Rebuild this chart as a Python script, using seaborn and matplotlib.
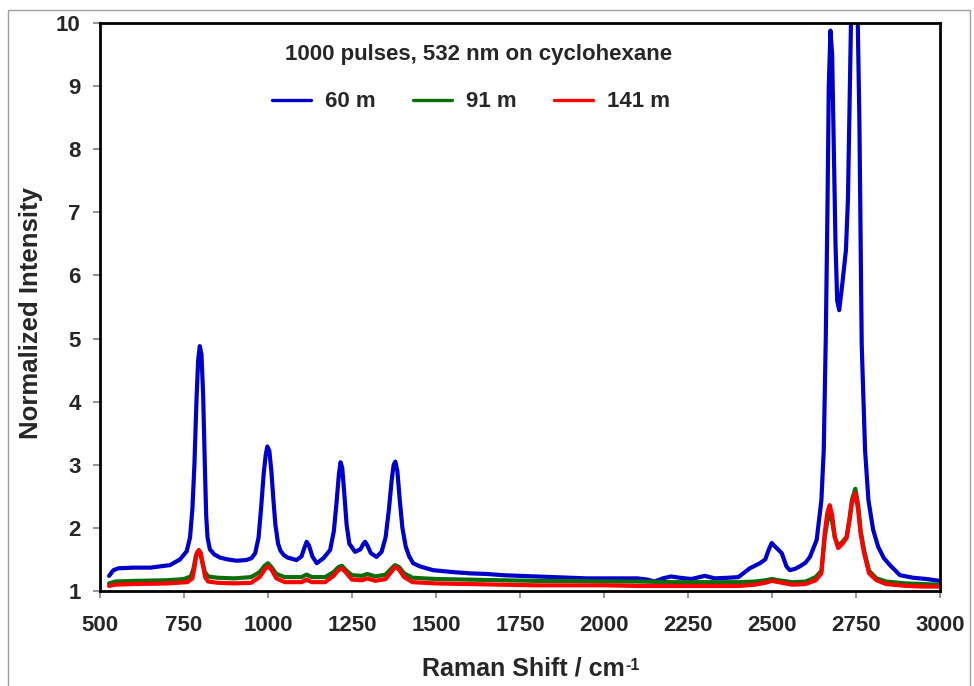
import matplotlib
matplotlib.use("Agg")
import matplotlib.pyplot as plt
from matplotlib.patches import Rectangle
import pandas as pd
import seaborn as sns

# Raman spectra of cyclohexane at three stand-off distances (normalized intensity)
blue_x = [527, 540, 555, 600, 650, 708, 738, 758, 768, 775, 781, 787, 792, 797, 802, 807, 812, 816, 820,
          827, 840, 857, 880, 907, 935, 951, 962, 972, 980, 987, 993, 998, 1004, 1010, 1016, 1022, 1030,
          1037, 1047, 1058, 1085, 1100, 1108, 1115, 1122, 1132, 1145, 1165, 1185, 1196, 1204, 1211, 1216,
          1221, 1227, 1234, 1242, 1259, 1275, 1283, 1289, 1296, 1306, 1323, 1338, 1350, 1360, 1368, 1374,
          1379, 1385, 1392, 1400, 1410, 1420, 1432, 1452, 1491, 1550,
          1600, 1650, 1700, 1750, 1800, 1850, 1900, 1950, 2000, 2050, 2100, 2130, 2150, 2175, 2200, 2225,
          2260, 2300, 2330, 2370, 2400, 2434, 2464, 2480, 2490, 2499, 2510, 2529, 2543, 2553, 2568, 2583,
          2600, 2613, 2633, 2647, 2654, 2660, 2665, 2669, 2674, 2679, 2684, 2689, 2694, 2700, 2710, 2720,
          2726, 2731, 2737, 2745, 2754, 2760, 2767, 2777, 2787, 2801, 2816, 2833, 2851, 2881, 2920,
          2960, 3000]
blue_y = [1.24, 1.33, 1.36, 1.37, 1.37, 1.41, 1.50, 1.63, 1.85, 2.30, 3.00, 4.00, 4.65, 4.88, 4.75, 4.10,
          3.00, 2.20, 1.85, 1.66, 1.58, 1.53, 1.50, 1.48, 1.49, 1.52, 1.60, 1.85, 2.35, 2.85, 3.15, 3.29,
          3.22, 2.90, 2.45, 2.05, 1.75, 1.64, 1.57, 1.53, 1.49, 1.55, 1.68, 1.78, 1.72, 1.55, 1.44, 1.52,
          1.65, 1.95, 2.40, 2.85, 3.04, 2.95, 2.55, 2.05, 1.75, 1.62, 1.66, 1.74, 1.78, 1.72, 1.60, 1.54,
          1.62, 1.85, 2.30, 2.75, 3.00, 3.05, 2.90, 2.45, 2.00, 1.70, 1.55, 1.44, 1.39, 1.33, 1.30,
          1.28, 1.27, 1.25, 1.24, 1.23, 1.22, 1.21, 1.20, 1.20, 1.20, 1.20, 1.18,
          1.15, 1.20, 1.23, 1.21, 1.19, 1.24, 1.20, 1.21, 1.22, 1.36, 1.44, 1.50, 1.65, 1.76, 1.70, 1.60,
          1.39, 1.33, 1.35, 1.39, 1.45, 1.54, 1.81, 2.44, 3.23, 5.00, 7.00, 9.00, 9.88, 9.50, 8.00, 6.50,
          5.60, 5.45, 5.90, 6.40, 7.20, 8.80, 10.6, 11.0, 10.4, 8.50, 4.90, 3.23, 2.44, 1.97, 1.70, 1.52,
          1.41, 1.25, 1.21, 1.19, 1.16]

green_x = [527, 545, 600, 700, 750, 770, 778, 785, 792, 798, 805, 812, 822, 850, 900, 950, 975, 990, 1000,
           1010, 1025, 1050, 1100, 1115, 1130, 1170, 1195, 1210, 1220, 1232, 1250, 1280, 1295, 1320, 1350,
           1368, 1378, 1390, 1405, 1430, 1500, 1600, 1700, 1800, 1900, 2000, 2100, 2200, 2300, 2400, 2450,
           2480, 2500, 2520, 2560, 2600, 2630, 2647, 2657, 2665, 2672, 2679, 2687, 2697, 2710, 2722, 2730,
           2738, 2748, 2756, 2764, 2774, 2789, 2811, 2840, 2900, 2950, 3000]
green_y = [1.12, 1.15, 1.16, 1.17, 1.19, 1.23, 1.35, 1.55, 1.63, 1.60, 1.45, 1.30, 1.23, 1.21, 1.20, 1.22,
           1.30, 1.40, 1.44, 1.38, 1.27, 1.22, 1.22, 1.26, 1.22, 1.22, 1.30, 1.38, 1.40, 1.33, 1.25, 1.24,
           1.27, 1.23, 1.26, 1.36, 1.41, 1.38, 1.28, 1.21, 1.19, 1.18, 1.17, 1.16, 1.16, 1.15, 1.15, 1.14,
           1.14, 1.14, 1.15, 1.17, 1.19, 1.17, 1.14, 1.15, 1.22, 1.32, 1.85, 2.12, 2.20, 2.10, 1.85, 1.72,
           1.78, 1.86, 2.12, 2.45, 2.62, 2.38, 1.95, 1.65, 1.32, 1.20, 1.15, 1.12, 1.11, 1.10]

red_x = [527, 545, 600, 700, 760, 775, 782, 788, 794, 800, 806, 813, 822, 850, 900, 950, 975, 990, 1000,
         1010, 1025, 1050, 1100, 1115, 1130, 1170, 1195, 1210, 1220, 1232, 1250, 1280, 1295, 1320, 1350,
         1368, 1378, 1390, 1405, 1430, 1500, 1600, 1700, 1800, 1900, 2000, 2100, 2200, 2300, 2400, 2450,
         2480, 2500, 2520, 2560, 2600, 2630, 2647, 2657, 2665, 2672, 2679, 2687, 2697, 2710, 2722, 2730,
         2738, 2748, 2756, 2764, 2774, 2789, 2811, 2840, 2900, 2950, 3000]
red_y = [1.08, 1.10, 1.11, 1.12, 1.14, 1.20, 1.40, 1.60, 1.65, 1.60, 1.42, 1.22, 1.15, 1.13, 1.12, 1.13,
         1.22, 1.34, 1.39, 1.34, 1.20, 1.14, 1.14, 1.18, 1.14, 1.14, 1.24, 1.33, 1.36, 1.29, 1.18, 1.17,
         1.20, 1.16, 1.19, 1.31, 1.38, 1.34, 1.22, 1.14, 1.12, 1.11, 1.10, 1.09, 1.09, 1.09, 1.08, 1.08,
         1.08, 1.08, 1.10, 1.13, 1.16, 1.14, 1.10, 1.11, 1.17, 1.28, 1.92, 2.25, 2.36, 2.20, 1.85, 1.68,
         1.75, 1.84, 2.10, 2.40, 2.55, 2.30, 1.90, 1.60, 1.28, 1.17, 1.11, 1.08, 1.07, 1.07]

series_labels = ["60 m", "91 m", "141 m"]
series_colors = ["#0000CC", "#0A6E0A", "#FF0000"]
title_text = "1000 pulses, 532 nm on cyclohexane"
x_ticks = [500, 750, 1000, 1250, 1500, 1750, 2000, 2250, 2500, 2750, 3000]
y_ticks = [1, 2, 3, 4, 5, 6, 7, 8, 9, 10]

frames = []
for lab, xs, ys in zip(series_labels, [blue_x, green_x, red_x], [blue_y, green_y, red_y]):
    frames.append(pd.DataFrame({"shift": xs, "intensity": ys, "distance": lab}))
df = pd.concat(frames, ignore_index=True)

sns.set_theme(style="white")
plt.rcParams["font.family"] = ["Liberation Sans", "DejaVu Sans"]

fig = plt.figure(figsize=(9.74, 6.86), dpi=100)
ax = fig.add_axes([100 / 974, 1 - 591 / 686, 840 / 974, 568 / 686])

sns.lineplot(data=df, x="shift", y="intensity", hue="distance", hue_order=series_labels,
             palette=dict(zip(series_labels, series_colors)), linewidth=3.0, ax=ax,
             estimator=None, sort=False)

ax.set_xlim(500, 3000)
ax.set_ylim(1, 10)
ax.set_xticks(x_ticks)
ax.set_yticks(y_ticks)
ax.set_xticklabels([str(t) for t in x_ticks], fontsize=16, fontweight="bold")
ax.set_yticklabels([str(t) for t in y_ticks], fontsize=16, fontweight="bold")
ax.tick_params(axis="both", direction="out", length=5, width=1.2, color="#808080",
               bottom=True, left=True)
ax.tick_params(axis="x", pad=12)
ax.tick_params(axis="y", pad=9)
for sp in ax.spines.values():
    sp.set_color("black")
    sp.set_linewidth(2)

ax.set_xlabel("Raman Shift / cm", fontsize=18, fontweight="bold")
ax.xaxis.set_label_coords(0.5036, -0.116)
ax.set_ylabel("Normalized Intensity", fontsize=18.5, fontweight="bold")
ax.yaxis.set_label_coords(-0.068, 0.49)

ax.text(0.4506, 0.944, title_text, transform=ax.transAxes, ha="center", va="center",
        fontsize=16, fontweight="bold")

handles, labels = ax.get_legend_handles_labels()
leg = ax.legend(handles, labels, ncol=3, frameon=False, loc="center", bbox_to_anchor=(0.4417, 0.861),
                prop={"size": 16, "weight": "bold"}, handlelength=1.75, columnspacing=1.7,
                handletextpad=0.63)
for h in leg.get_lines():
    h.set_linewidth(2.4)

# superscript exponent after the x-axis label
fig.canvas.draw()
bb = ax.xaxis.label.get_window_extent()
fig.text((bb.x1 + 1) / 974, (bb.y1 - 1) / 686, "-1", fontsize=11.5, fontweight="bold",
         ha="left", va="top")

# thin grey frame around the chart area
fig.patches.append(Rectangle((8 / 974, -0.01), 962 / 974, 1 - 10 / 686 + 0.01,
                             transform=fig.transFigure, fill=False, edgecolor="#A0A0A0",
                             linewidth=1.0))

fig.savefig("out.png", dpi=100)
